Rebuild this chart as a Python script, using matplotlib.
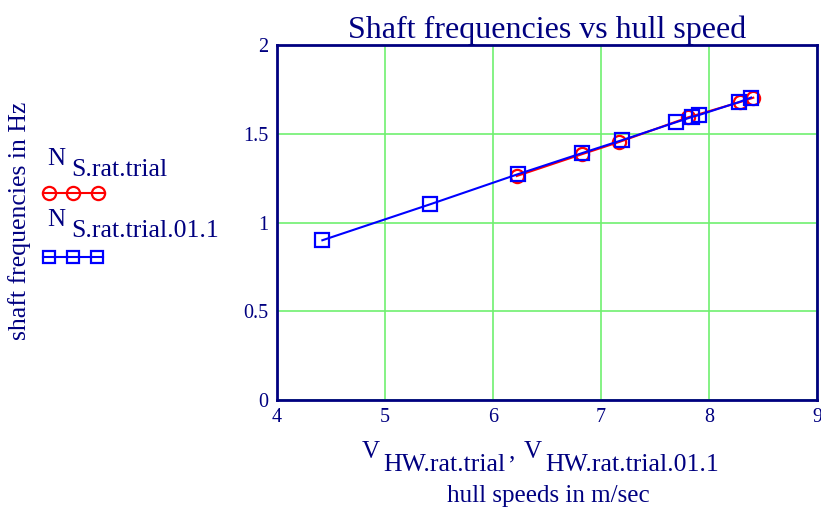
import matplotlib
matplotlib.use("Agg")
import matplotlib.pyplot as plt
from matplotlib.lines import Line2D

plt.rcParams['font.family'] = ['Liberation Serif', 'DejaVu Serif']

# Data
v_trial = [6.22, 6.82, 7.17, 7.81, 8.29, 8.41]
n_trial = [1.262, 1.384, 1.454, 1.593, 1.679, 1.703]

v_trial_01 = [4.42, 5.42, 6.23, 6.82, 7.19, 7.69, 7.84, 7.91, 8.28, 8.39]
n_trial_01 = [0.900, 1.103, 1.272, 1.390, 1.463, 1.564, 1.594, 1.606, 1.679, 1.704]

x_ticks = [4, 5, 6, 7, 8, 9]
y_ticks = [0, 0.5, 1, 1.5, 2]
y_tick_labels = ['0', '0.5', '1', '1.5', '2']

navy = '#000080'
grid_green = '#70f070'

W, H = 821, 509
fig = plt.figure(figsize=(W / 100, H / 100), dpi=100)
ax = fig.add_axes([277 / W, 1 - 400 / H, (817 - 277) / W, (400 - 45) / H])

ax.plot(v_trial, n_trial, color='red', lw=1.5, marker='o', ms=9.5,
        mfc='none', mec='red', mew=1.6)
ax.plot(v_trial_01, n_trial_01, color='blue', lw=1.5, marker='s', ms=9.5,
        mfc='none', mec='blue', mew=1.6)

ax.set_xlim(4, 9)
ax.set_ylim(0, 2)
ax.set_xticks(x_ticks)
ax.set_xticklabels([str(t) for t in x_ticks])
ax.set_yticks(y_ticks)
ax.set_yticklabels(y_tick_labels)
ax.grid(True, color=grid_green, lw=1.2)
ax.tick_params(length=0, labelsize=14.5, colors=navy, pad=6)
for s in ax.spines.values():
    s.set_color(navy)
    s.set_linewidth(2)

ax.set_title('Shaft frequencies vs hull speed', fontsize=23, color=navy, pad=4)


def px(x, y):
    return x / W, 1 - y / H


def label(x, y, s, size=18, **kw):
    # text placed by pixel position of its left baseline
    fig.text(*px(x, y), s, fontsize=size, color=navy, va='baseline', **kw)


# y label
fig.text(*px(20, 221), 'shaft frequencies in Hz', rotation=90, fontsize=18.5,
         color=navy, ha='center', va='center')

# legend block
label(47, 165, 'N')
label(71, 176, 'S.rat.trial', size=18.5)
fig.add_artist(Line2D([43 / W, 105 / W], [1 - 193 / H] * 2, color='red', lw=1.5))
fig.add_artist(Line2D([49 / W, 73 / W, 98 / W], [1 - 193 / H] * 3, ls='none',
                      marker='o', ms=9.5, mfc='none', mec='red', mew=1.6))
label(47, 226, 'N')
label(71, 237, 'S.rat.trial.01.1', size=18.5)
fig.add_artist(Line2D([43 / W, 103 / W], [1 - 257 / H] * 2, color='blue', lw=1.5))
fig.add_artist(Line2D([49 / W, 73 / W, 97 / W], [1 - 257 / H] * 3, ls='none',
                      marker='s', ms=9, mfc='none', mec='blue', mew=1.6))

# x label
label(362, 458, 'V')
label(383, 471, 'HW.rat.trial', size=18.5)
label(509, 458, ',')
label(524, 458, 'V')
label(545, 471, 'HW.rat.trial.01.1', size=18.5)
label(548, 502, 'hull speeds in m/sec', ha='center')

fig.savefig('out.png', dpi=100)
